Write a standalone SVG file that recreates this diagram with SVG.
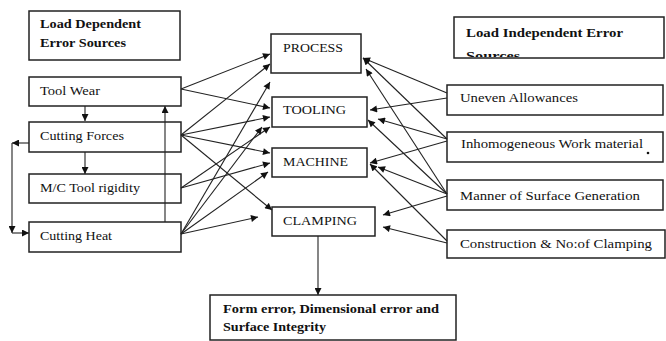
<svg xmlns="http://www.w3.org/2000/svg" width="666" height="341" viewBox="0 0 666 341">
<style>
.box{fill:none;stroke:#222;stroke-width:1.5}
.t{font-family:"Liberation Serif","Times New Roman",serif;font-size:13px;fill:#111}
.b{font-weight:bold}
.c{stroke:#222;stroke-width:1.1;fill:none;marker-end:url(#ah)}
</style>
<defs>
<marker id="ah" viewBox="0 0 10 10" refX="10" refY="5" markerWidth="8" markerHeight="7" markerUnits="userSpaceOnUse" orient="auto">
<path d="M0,0 L10,5 L0,10 z" fill="#111"/>
</marker>
<clipPath id="clipLI"><rect x="454" y="17" width="212" height="40"/></clipPath>
</defs>
<rect width="666" height="341" fill="#fff"/>

<g id="connectors">
<path class="c" d="M85,106 V121"/>
<path class="c" d="M85,152 V174"/>
<path class="c" d="M165,222 V106"/>
<path class="c" d="M29,143 H12"/>
<path class="c" d="M12,143 V233"/>
<path class="c" d="M12,233 H29"/>
<path class="c" d="M181,89 L270,54"/>
<path class="c" d="M181,89 L270,108"/>
<path class="c" d="M181,135 L270,64"/>
<path class="c" d="M181,135 L270,117"/>
<path class="c" d="M181,135 L270,153"/>
<path class="c" d="M181,135 L272,210"/>
<path class="c" d="M181,188 L270,127"/>
<path class="c" d="M181,188 L270,163"/>
<path class="c" d="M181,234 L270,82"/>
<path class="c" d="M181,234 L262,127"/>
<path class="c" d="M181,234 L268,172"/>
<path class="c" d="M181,234 L258,217"/>
<path class="c" d="M447,93 L363,58"/>
<path class="c" d="M447,139 L363,58"/>
<path class="c" d="M447,194 L366,69"/>
<path class="c" d="M447,98 L370,110"/>
<path class="c" d="M447,139 L378,119"/>
<path class="c" d="M447,194 L368,120"/>
<path class="c" d="M447,141 L370,163"/>
<path class="c" d="M447,194 L378,167"/>
<path class="c" d="M447,241 L370,164"/>
<path class="c" d="M447,196 L383,215"/>
<path class="c" d="M447,243 L383,227"/>
<path class="c" d="M318,236 V295"/>
</g>

<g id="load-dependent">
<rect class="box" x="29" y="11" width="151" height="49"/>
<text class="t b" x="40" y="28" textLength="101" lengthAdjust="spacingAndGlyphs">Load Dependent</text>
<text class="t b" x="40" y="47" textLength="86" lengthAdjust="spacingAndGlyphs">Error Sources</text>
</g>
<g id="tool-wear">
<rect class="box" x="29" y="77" width="152" height="29"/>
<text class="t" x="40" y="95" textLength="60" lengthAdjust="spacingAndGlyphs">Tool Wear</text>
</g>
<g id="cutting-forces">
<rect class="box" x="29" y="122" width="152" height="30"/>
<text class="t" x="40" y="140" textLength="84" lengthAdjust="spacingAndGlyphs">Cutting Forces</text>
</g>
<g id="mc-tool-rigidity">
<rect class="box" x="29" y="174" width="152" height="29"/>
<text class="t" x="40" y="192" textLength="100" lengthAdjust="spacingAndGlyphs">M/C Tool rigidity</text>
</g>
<g id="cutting-heat">
<rect class="box" x="29" y="222" width="152" height="30"/>
<text class="t" x="40" y="240" textLength="72" lengthAdjust="spacingAndGlyphs">Cutting Heat</text>
</g>

<g id="process">
<rect class="box" x="271" y="34" width="90" height="39"/>
<text class="t" x="283" y="52" textLength="60" lengthAdjust="spacingAndGlyphs">PROCESS</text>
</g>
<g id="tooling">
<rect class="box" x="272" y="97" width="95" height="30"/>
<text class="t" x="283" y="114" textLength="63" lengthAdjust="spacingAndGlyphs">TOOLING</text>
</g>
<g id="machine">
<rect class="box" x="272" y="148" width="95" height="29"/>
<text class="t" x="283" y="166" textLength="65" lengthAdjust="spacingAndGlyphs">MACHINE</text>
</g>
<g id="clamping">
<rect class="box" x="272" y="207" width="103" height="29"/>
<text class="t" x="283" y="225" textLength="74" lengthAdjust="spacingAndGlyphs">CLAMPING</text>
</g>

<g id="load-independent">
<g clip-path="url(#clipLI)">
<text class="t b" x="466" y="37" textLength="157" lengthAdjust="spacingAndGlyphs">Load Independent Error</text>
<text class="t b" x="466" y="60" textLength="54" lengthAdjust="spacingAndGlyphs">Sources</text>
</g>
<rect class="box" x="454" y="17" width="210" height="41"/>
</g>
<g id="uneven-allowances">
<rect class="box" x="447" y="85" width="216" height="30"/>
<text class="t" x="460" y="102" textLength="118" lengthAdjust="spacingAndGlyphs">Uneven Allowances</text>
</g>
<g id="inhomogeneous">
<rect class="box" x="447" y="132" width="216" height="30"/>
<text class="t" x="461" y="148" textLength="182" lengthAdjust="spacingAndGlyphs">Inhomogeneous Work material</text>
<circle cx="648" cy="153" r="1.3" fill="#111"/>
</g>
<g id="manner">
<rect class="box" x="447" y="180" width="216" height="30"/>
<text class="t" x="460" y="200" textLength="180" lengthAdjust="spacingAndGlyphs">Manner of Surface Generation</text>
</g>
<g id="construction">
<rect class="box" x="447" y="230" width="218" height="28"/>
<text class="t" x="460" y="248" textLength="192" lengthAdjust="spacingAndGlyphs">Construction &amp; No:of Clamping</text>
</g>

<g id="form-error">
<rect class="box" x="210" y="295" width="246" height="45"/>
<text class="t b" x="223" y="313" textLength="216" lengthAdjust="spacingAndGlyphs">Form error, Dimensional error and</text>
<text class="t b" x="223" y="331" textLength="103" lengthAdjust="spacingAndGlyphs">Surface Integrity</text>
</g>
</svg>
